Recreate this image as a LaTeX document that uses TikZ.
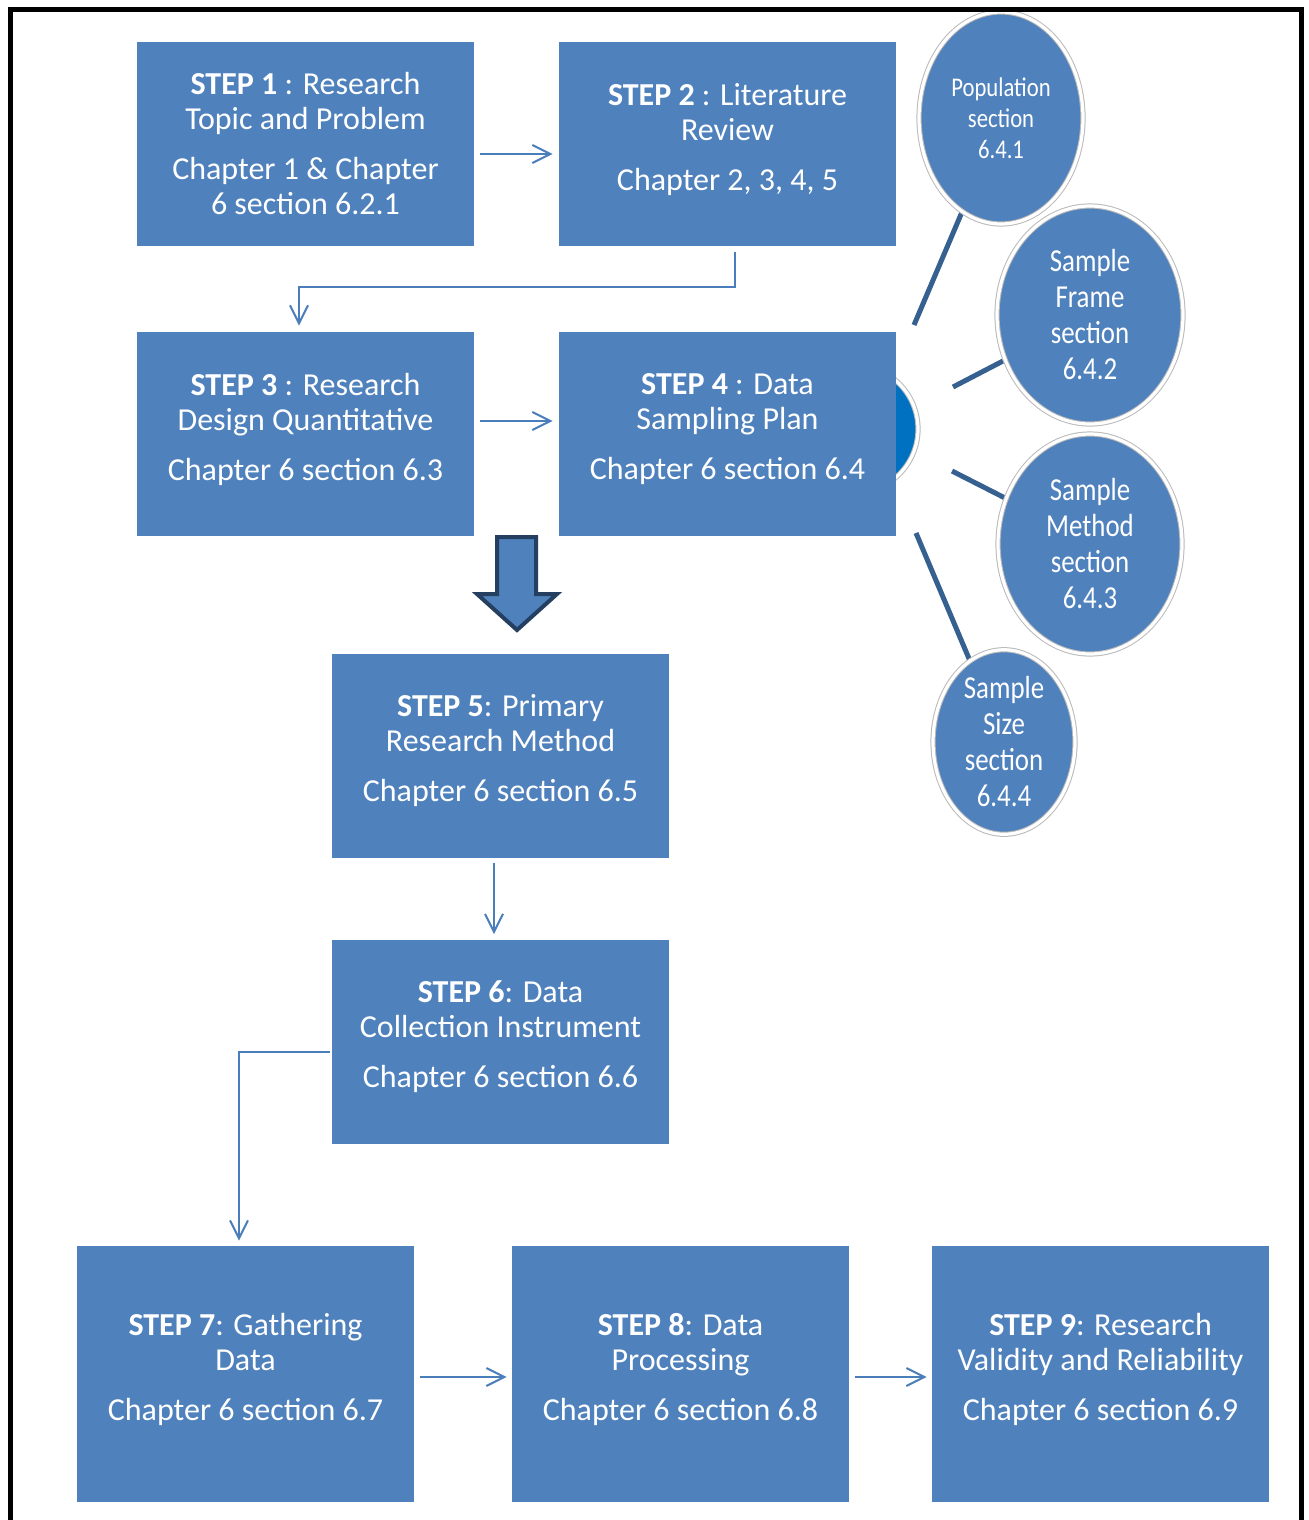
\documentclass[tikz,border=0pt]{standalone}
\usepackage{fontspec}
\setmainfont{Carlito}
\newfontfamily\narrowfont[FakeStretch=0.84]{Carlito}
\usetikzlibrary{shapes.geometric,arrows.meta}
\definecolor{boxblue}{HTML}{4F81BD}
\definecolor{connblue}{HTML}{4A7EBB}
\definecolor{linkblue}{HTML}{35608F}
\definecolor{darkblue}{HTML}{0070C0}
\definecolor{arrowedge}{HTML}{243F60}
\newcommand{\liftup}{\\[-10pt]\mbox{}}
\begin{document}
\begin{tikzpicture}[x=0.5pt,y=-0.5pt,
  stepbox/.style={fill=boxblue, minimum width=168.5pt, minimum height=102pt, inner sep=0pt,
    align=center, text=white, font=\fontsize{16}{17.5}\selectfont},
  tallbox/.style={stepbox, minimum height=128pt},
  subcirc/.style={ellipse, fill=boxblue, draw=gray!55, double=white, double distance=1.6pt,
    line width=0.5pt, inner sep=0pt, align=center, text=white,
    font=\narrowfont\fontsize{16}{18}\selectfont},
  conn/.style={draw=connblue, line width=1pt, -{Straight Barb[length=9pt,width=9pt]}},
  link/.style={draw=linkblue, line width=2.5pt}]
\useasboundingbox (0,0) rectangle (1309,1520);

% hidden partial circle behind step 4
\node[circle, fill=darkblue, draw=gray!55, double=white, double distance=1.6pt, line width=0.5pt,
  minimum size=64pt, inner sep=0pt] (hub) at (854,429) {};

\node[stepbox] (s1) at (305.5,144) {\textbf{STEP 1} : Research\\Topic and Problem\\[7.5pt]Chapter 1 \& Chapter\\6 section 6.2.1};
\node[stepbox] (s2) at (727.5,144) {\textbf{STEP 2} : Literature\\Review\\[7.5pt]Chapter 2, 3, 4, 5\liftup};
\node[stepbox] (s3) at (305.5,434) {\textbf{STEP 3} : Research\\Design Quantitative\\[7.5pt]Chapter 6 section 6.3\liftup};
\node[stepbox] (s4) at (727.5,434) {\textbf{STEP 4} : Data\\Sampling Plan\\[7.5pt]Chapter 6 section 6.4\liftup};
\node[stepbox] (s5) at (500.5,755.5) {\textbf{STEP 5}: Primary\\Research Method\\[7.5pt]Chapter 6 section 6.5\liftup};
\node[stepbox] (s6) at (500.5,1041.5) {\textbf{STEP 6}: Data\\Collection Instrument\\[7.5pt]Chapter 6 section 6.6\liftup};
\node[tallbox] (s7) at (245.5,1374) {\textbf{STEP 7}: Gathering\\Data\\[7.5pt]Chapter 6 section 6.7\liftup};
\node[tallbox] (s8) at (680.5,1374) {\textbf{STEP 8}: Data\\Processing\\[7.5pt]Chapter 6 section 6.8\liftup};
\node[tallbox] (s9) at (1100.5,1374) {\textbf{STEP 9}: Research\\Validity and Reliability\\[7.5pt]Chapter 6 section 6.9\liftup};

% connectors between steps
\draw[conn] ([xshift=3pt,yshift=-5pt]s1.east) -- ([xshift=-3pt,yshift=-5pt]s2.west);
\draw[conn] ([xshift=3.75pt,yshift=-3pt]s2.south) |- ([xshift=-3.25pt,yshift=22.5pt]s3.north) -- ([xshift=-3.25pt,yshift=3pt]s3.north);
\draw[conn] ([xshift=3pt,yshift=6.5pt]s3.east) -- ([xshift=-3pt,yshift=6.5pt]s4.west);
\draw[conn] ([xshift=-3.25pt,yshift=-2.5pt]s5.south) -- ([xshift=-3.25pt,yshift=2.5pt]s6.north);
\draw[conn] ([xshift=-1pt,yshift=-5.25pt]s6.west) -| ([xshift=-3.25pt,yshift=2.5pt]s7.north);
\draw[conn] ([xshift=3pt,yshift=-1.5pt]s7.east) -- ([xshift=-2.5pt,yshift=-1.5pt]s8.west);
\draw[conn] ([xshift=3pt,yshift=-1.5pt]s8.east) -- ([xshift=-2.5pt,yshift=-1.5pt]s9.west);

% block arrow from step 3/4 to step 5
\draw[fill=boxblue, draw=arrowedge, line width=2pt, line join=miter]
  (497,537) -- (536,537) -- (536,594) -- (557,594) -- (517,630) -- (477,594) -- (497,594) -- cycle;

% links to sampling circles
\coordinate (l1a) at (914,325); \coordinate (l1b) at (962,212);
\coordinate (l2a) at (953,387); \coordinate (l2b) at (1003,361);
\coordinate (l3a) at (952,471); \coordinate (l3b) at (1005,498);
\coordinate (l4a) at (916,533); \coordinate (l4b) at (970,661);
\draw[link] (l1a) -- (l1b);
\draw[link] (l2a) -- (l2b);
\draw[link] (l3a) -- (l3b);
\draw[link] (l4a) -- (l4b);

\node[subcirc, minimum width=82pt, minimum height=106pt, font=\narrowfont\fontsize{13.5}{15.5}\selectfont] (pop) at (1001,118) {Population\\section\\6.4.1};
\node[subcirc, minimum width=93pt, minimum height=109pt] (frame) at (1090,315) {Sample\\Frame\\section\\6.4.2};
\node[subcirc, minimum width=92pt, minimum height=110pt] (method) at (1090,544) {Sample\\Method\\section\\6.4.3};
\node[subcirc, minimum width=71pt, minimum height=91.5pt] (size) at (1004,742) {Sample\\Size\\section\\6.4.4};

% frame
\draw[line width=2.5pt] (10,1530) -- (10,10) -- (1301.5,10) -- (1301.5,1530);
\end{tikzpicture}
\end{document}
